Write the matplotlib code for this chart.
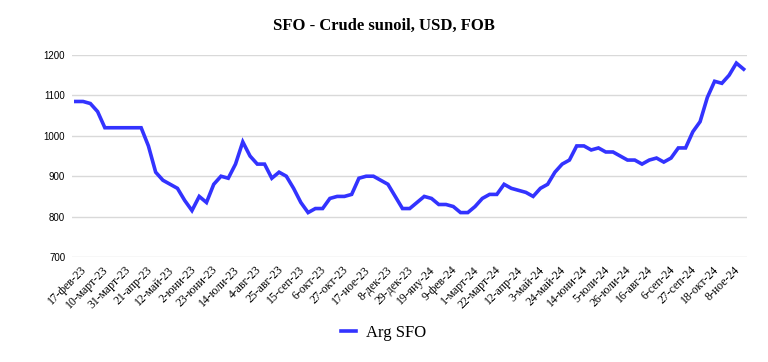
import matplotlib.pyplot as plt
import matplotlib.transforms as mtransforms
import pandas as pd

# weekly prices, Arg SFO (USD/t, FOB)
dates = pd.date_range('2023-02-17', periods=93, freq='7D')
months = ['яну', 'фев', 'март', 'апр', 'май', 'юни',
          'юли', 'авг', 'сеп', 'окт', 'ное', 'дек']
values = [1085, 1085, 1080, 1060, 1020, 1020, 1020, 1020, 1020, 1020,
          975, 910, 890, 880, 870, 840, 815, 850, 835, 880,
          900, 895, 930, 985, 950, 930, 930, 895, 910, 900,
          870, 835, 810, 820, 820, 845, 850, 850, 855, 895,
          900, 900, 890, 880, 850, 820, 820, 835, 850, 845,
          830, 830, 825, 810, 810, 825, 845, 855, 855, 880,
          870, 865, 860, 850, 870, 880, 910, 930, 940, 975,
          975, 965, 970, 960, 960, 950, 940, 940, 930, 940,
          945, 935, 945, 970, 970, 1010, 1035, 1095, 1135, 1130,
          1150, 1180, 1165]
yticks = [700, 800, 900, 1000, 1100, 1200]

labels = [f"{d.day}-{months[d.month - 1]}-{d.strftime('%y')}" for d in dates]
x = list(range(len(values)))

fig = plt.figure(figsize=(7.68, 3.62), dpi=100)
ax = fig.add_axes([0.094, 0.29, 0.879, 0.558])

ax.plot(x, values, color='#3333ff', linewidth=2.6, label='Arg SFO',
        solid_joinstyle='miter')

ax.set_xlim(-0.5, len(values) - 0.5)
ax.set_ylim(700, 1200)
ax.set_yticks(yticks)
ax.set_yticklabels([str(v) for v in yticks], fontsize=7, family='Liberation Sans')
ax.set_xticks(x[::3])
ax.set_xticklabels(labels[::3], rotation=45, ha='right', rotation_mode='anchor',
                   fontsize=8.5, family='Liberation Serif')
ax.tick_params(axis='both', length=0)
ax.tick_params(axis='y', pad=5)
ax.tick_params(axis='x', pad=5)

# nudge the rotated date labels a little to the right
shift = mtransforms.ScaledTranslation(5 / 100, 0, fig.dpi_scale_trans)
for lbl in ax.get_xticklabels():
    lbl.set_transform(lbl.get_transform() + shift)

ax.grid(axis='y', color='#d9d9d9', linewidth=1)
ax.set_axisbelow(True)
for s in ax.spines.values():
    s.set_visible(False)

fig.suptitle('SFO - Crude sunoil, USD, FOB', x=0.5, y=0.95, fontsize=12,
             fontweight='bold', family='Liberation Serif')

fig.legend(loc='center', bbox_to_anchor=(0.5, 0.08), frameon=False,
           prop={'family': 'Liberation Serif', 'size': 12},
           handlelength=0.9, handletextpad=0.6)

fig.savefig('out.png', dpi=100)
